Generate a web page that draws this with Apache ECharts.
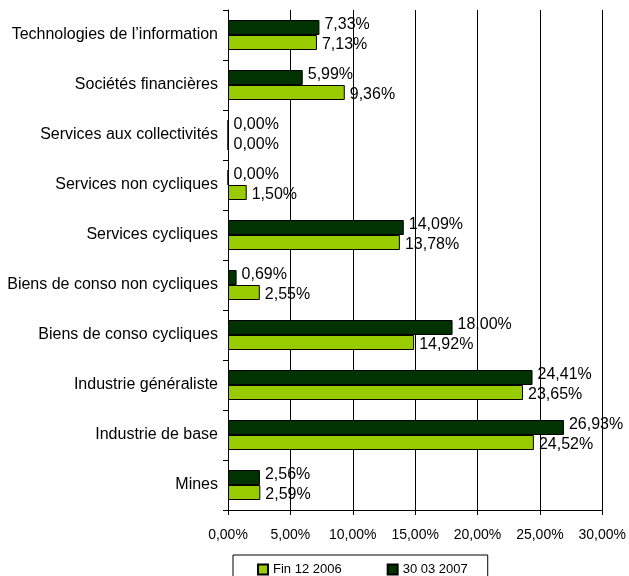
<!DOCTYPE html>
<html><head><meta charset="utf-8">
<script src="https://cdn.jsdelivr.net/npm/echarts@6/dist/echarts.min.js"></script>
<style>html,body{margin:0;padding:0;background:#fff}#c{width:629px;height:576px}</style>
</head><body><div id="c"></div>
<script>
const categories = ["Mines","Industrie de base","Industrie généraliste","Biens de conso cycliques","Biens de conso non cycliques","Services cycliques","Services non cycliques","Services aux collectivités","Sociétés financières","Technologies de l’information"];
const fin2006 = [2.59,24.52,23.65,14.92,2.55,13.78,1.50,0.00,9.36,7.13];
const mar2007 = [2.56,26.93,24.41,18.00,0.69,14.09,0.00,0.00,5.99,7.33];
const seriesNames = ["Fin 12 2006","30 03 2007"];
const xTicks = [0,5,10,15,20,25,30];
const fmt = v => v.toFixed(2).replace('.', ',') + '%';
const font = 'Liberation Sans, Arial, sans-serif';
const chart = echarts.init(document.getElementById('c'));
chart.setOption({
  animation:false,
  textStyle:{fontFamily:font},
  grid:{left:228,right:26,top:10,bottom:66,containLabel:false},
  legend:{
    left:233,top:555,
    data:seriesNames,
    itemWidth:10,itemHeight:10,itemGap:45,
    icon:'rect',
    borderColor:'#000',borderWidth:1,
    padding:[8,20,12,24],
    textStyle:{fontSize:13,color:'#000',fontFamily:font}
  },
  xAxis:{
    type:'value',min:xTicks[0],max:xTicks[xTicks.length-1],interval:5,
    axisLine:{show:true,lineStyle:{color:'#000'}},
    axisTick:{show:true,length:5,lineStyle:{color:'#000'}},
    axisLabel:{formatter:v=>fmt(v),fontSize:14,color:'#000',margin:18,fontFamily:font},
    splitLine:{show:true,lineStyle:{color:'#000',width:1}}
  },
  yAxis:{
    type:'category',data:categories,
    axisLine:{show:true,lineStyle:{color:'#000'}},
    axisTick:{show:true,length:5,lineStyle:{color:'#000'}},
    axisLabel:{fontSize:16,color:'#000',margin:10,fontFamily:font}
  },
  series:[
    {name:seriesNames[1],type:'bar',data:mar2007,barWidth:15,barGap:'0%',
     itemStyle:{color:'#003300',borderColor:'#000',borderWidth:1},
     label:{show:true,position:'right',distance:5,offset:[0,-2.5],formatter:p=>fmt(p.value),fontSize:16,color:'#000',fontFamily:font}},
    {name:seriesNames[0],type:'bar',data:fin2006,barWidth:15,barGap:'0%',
     itemStyle:{color:'#99CC00',borderColor:'#000',borderWidth:1},
     label:{show:true,position:'right',distance:5,offset:[0,2.5],formatter:p=>fmt(p.value),fontSize:16,color:'#000',fontFamily:font}}
  ]
});
</script></body></html>
